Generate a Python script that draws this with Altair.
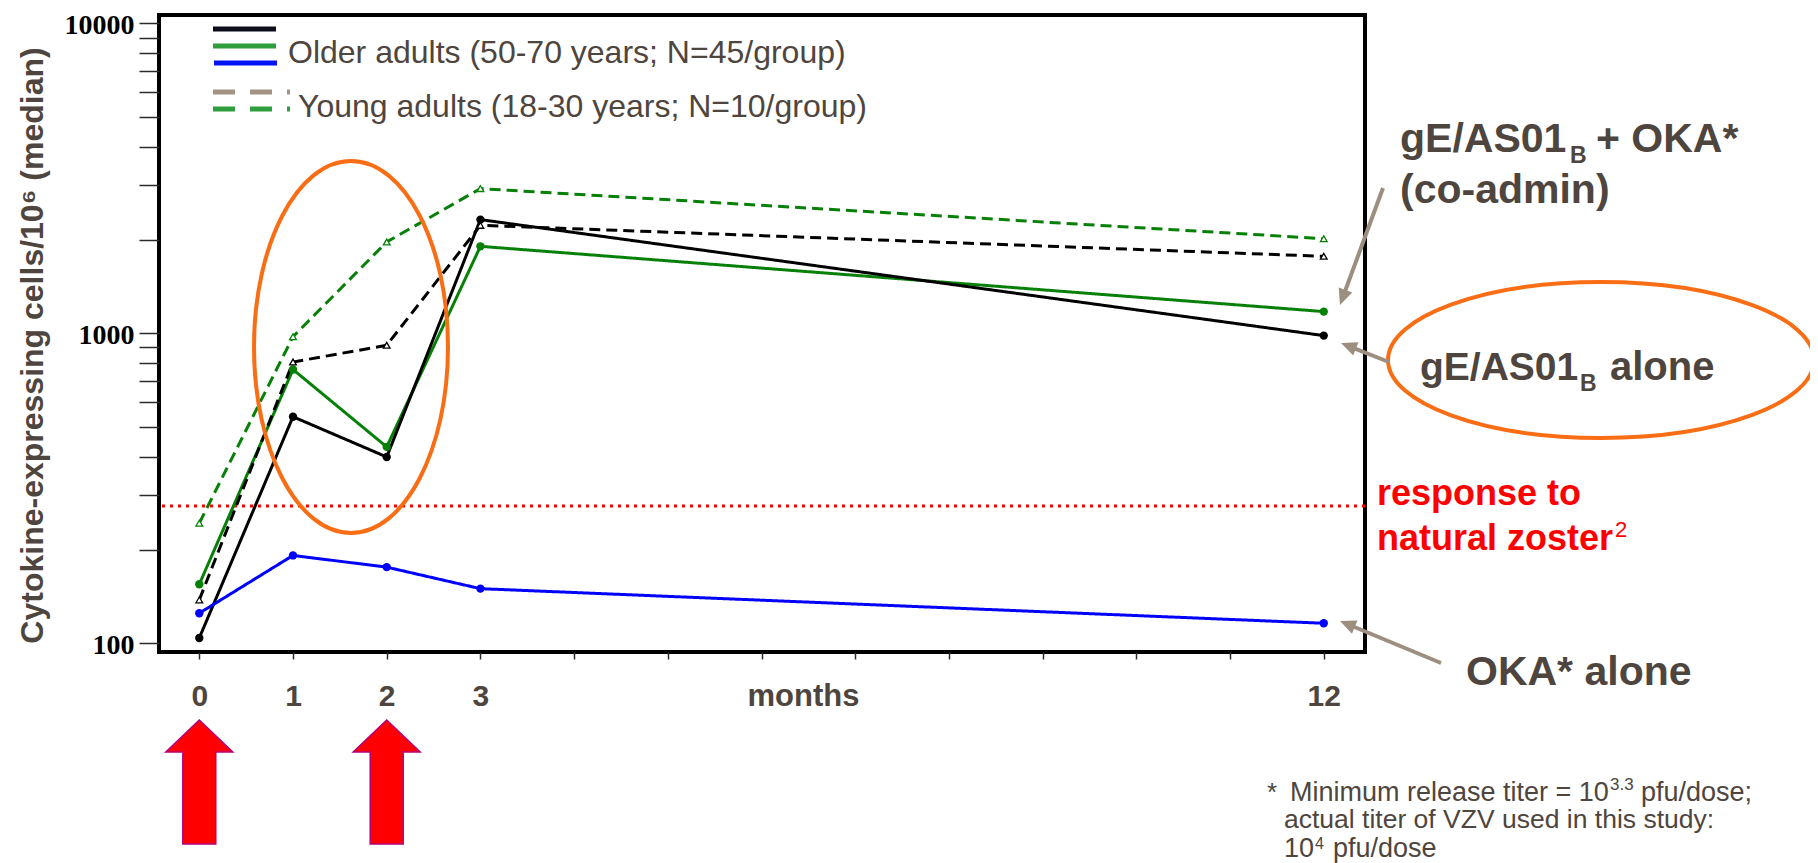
import math
import altair as alt
import pandas as pd

# ---------------- data ----------------
months = [0, 1, 2, 3, 12]
older_gE_coadmin = [155, 764, 430, 1908, 1175]   # green solid
older_gE_alone = [104, 538, 399, 2327, 983]      # black solid
older_oka_alone = [125, 192, 176, 150, 116]      # blue solid
young_gE_coadmin = [244, 975, 1971, 2930, 2020]  # green dashed
young_gE_alone = [138, 808, 915, 2230, 1772]     # black dashed
natural_zoster_response = [277]
dose_months = [0, 2]

x_tick_values = list(range(13))
x_tick_labels = [0, 1, 2, 3, 12]
y_tick_values = [100, 200, 300, 400, 500, 600, 700, 800, 900,
                 1000, 2000, 3000, 4000, 5000, 6000, 7000, 8000, 9000, 10000]
y_tick_labels = [100, 1000, 10000]

series_names = ["Older gE/AS01B + OKA", "Older gE/AS01B", "Older OKA",
                "Young gE/AS01B + OKA", "Young gE/AS01B"]
series_values = [older_gE_coadmin, older_gE_alone, older_oka_alone,
                 young_gE_coadmin, young_gE_alone]
older_names = series_names[:3]
young_names = series_names[3:]

# ---------------- styles ----------------
TXT = "#4e453e"
RED = "#ff0000"
GRAY = "#9d8f80"
ORANGE = "#f96d15"
GREEN = "#078007"
series_colors = [GREEN, "#000000", "#0000ff", GREEN, "#000000"]
series_dash = [[1, 0], [1, 0], [1, 0], [11, 6], [11, 6]]

OX, OY = 159, 15          # page position of plot origin
W, H = 1206, 637

rows = []
for name, vals in zip(series_names, series_values):
    for m, v in zip(months, vals):
        rows.append({"series": name, "month": m, "value": v})
df = pd.DataFrame(rows)

label_list_x = ",".join(str(v) for v in x_tick_labels)
label_list_y = ",".join(str(v) for v in y_tick_labels)

x_axis = alt.Axis(
    values=x_tick_values,
    labelExpr=f"indexof([{label_list_x}], datum.value) >= 0 ? datum.label : ''",
    domain=False, grid=False,
    tickSize=7, tickWidth=1.5, tickColor="#2a2a2a",
    labelFont="Liberation Sans", labelFontSize=30, labelFontWeight="bold",
    labelColor=TXT, labelBaseline="alphabetic", labelPadding=46,
    labelFlush=False, labelOverlap=False,
    title="months", titleX=644, titleY=53, titleAlign="center",
    titleBaseline="alphabetic", titleFont="Liberation Sans", titleFontSize=31,
    titleFontWeight="bold", titleColor=TXT,
)
y_axis = alt.Axis(
    values=y_tick_values,
    labelExpr=f"indexof([{label_list_y}], datum.value) >= 0 ? '' + datum.value : ''",
    domain=False, grid=False,
    tickSize=20, tickWidth=1.5, tickColor="#2a2a2a",
    labelFont="Liberation Serif", labelFontSize=28, labelFontWeight="bold",
    labelColor="#000000", labelPadding=5, labelOverlap=False, labelFlush=False,
    labelBaseline="alphabetic", labelOffset=10,
    title="Cytokine-expressing cells/10\u2076 (median)",
    titleX=-117, titleY=330, titleAngle=270, titleAlign="center",
    titleBaseline="alphabetic", titleFont="Liberation Sans", titleFontSize=32,
    titleFontWeight="bold", titleColor=TXT,
)

x_enc = alt.X("month:Q", scale=alt.Scale(domain=[-0.43, 12.44], nice=False, zero=False), axis=x_axis)
y_enc = alt.Y("value:Q", scale=alt.Scale(type="log", domain=[93.7, 10640], nice=False), axis=y_axis)
color_enc = alt.Color("series:N", scale=alt.Scale(domain=series_names, range=series_colors), legend=None)
dash_enc = alt.StrokeDash("series:N", scale=alt.Scale(domain=series_names, range=series_dash), legend=None)

base = alt.Chart(df)
lines = base.mark_line(strokeWidth=3).encode(x=x_enc, y=y_enc, color=color_enc, strokeDash=dash_enc)
pts_old = base.transform_filter(alt.FieldOneOfPredicate(field="series", oneOf=older_names)).mark_point(
    shape="circle", filled=True, size=70, opacity=1).encode(x=x_enc, y=y_enc, color=color_enc)
pts_young = base.transform_filter(alt.FieldOneOfPredicate(field="series", oneOf=young_names)).mark_point(
    shape="triangle-up", filled=False, fill="white", fillOpacity=1, size=45, strokeWidth=1.3, opacity=1
).encode(x=x_enc, y=y_enc, color=color_enc)

ref_line = alt.Chart(pd.DataFrame({"value": natural_zoster_response})).mark_rule(
    color=RED, strokeWidth=3, strokeDash=[3, 5]).encode(y=y_enc)

# dose arrows (block arrows under months 0 and 2)
block_arrow = "M0,-1L0.54,-0.484L0.266,-0.484L0.266,1L-0.266,1L-0.266,-0.484L-0.54,-0.484Z"
dose = alt.Chart(pd.DataFrame({"month": dose_months})).mark_point(
    shape=block_arrow, size=124 * 124, filled=True, fill=RED, fillOpacity=1,
    stroke="#b5007a", strokeWidth=1.5, opacity=1, dx=-4
).encode(x=x_enc, y=alt.value(782 - OY))

one = pd.DataFrame({"k": [0]})
layers = [ref_line, lines, pts_old, pts_young, dose]

# ellipses (page centre, rx, ry)
ellipses = [((351, 347), 97, 186), ((1601, 360), 213, 78)]
for (cx, cy), rx, ry in ellipses:
    r = max(rx, ry)
    a, b = rx / r, ry / r
    path = f"M{-a:.4f},0A{a:.4f},{b:.4f},0,1,0,{a:.4f},0A{a:.4f},{b:.4f},0,1,0,{-a:.4f},0Z"
    layers.append(alt.Chart(one).mark_point(
        shape=path, size=(2 * r) ** 2, filled=False, stroke=ORANGE, strokeWidth=4, opacity=1
    ).encode(x=alt.value(cx - OX), y=alt.value(cy - OY)))

# grey pointer arrows (start, tip) in page coords
pointer_arrows = [((1383, 188), (1340, 305)), ((1389, 362), (1341, 343)), ((1441, 663), (1340, 621))]
head_path = "M0,0L0.5,1.1L-0.5,1.1Z"
for (sx, sy), (tx, ty) in pointer_arrows:
    dx, dy = tx - sx, ty - sy
    L = math.hypot(dx, dy)
    ux, uy = dx / L, dy / L
    ex, ey = tx - ux * 13, ty - uy * 13
    ang = math.degrees(math.atan2(dx, -dy)) % 360
    layers.append(alt.Chart(one).mark_rule(color=GRAY, strokeWidth=4).encode(
        x=alt.value(sx - OX), y=alt.value(sy - OY), x2=alt.value(ex - OX), y2=alt.value(ey - OY)))
    layers.append(alt.Chart(one).mark_point(
        shape=head_path, size=29 * 29, filled=True, fill=GRAY, fillOpacity=1, strokeWidth=0,
        angle=ang, opacity=1).encode(x=alt.value(tx - OX), y=alt.value(ty - OY)))

# legend swatches: (x1, x2, y, color, dash)
swatches = [
    (213, 276, 29, "#0b0d1a", None),
    (213, 276, 46, "#2f9e3f", None),
    (214, 277, 63, "#0515f5", None),
    (213, 290, 92, "#a39383", [22, 15]),
    (213, 290, 109, "#2f9e3f", [22, 15]),
]
for x1, x2, y, c, d in swatches:
    kw = dict(color=c, strokeWidth=5)
    if d:
        kw["strokeDash"] = d
    layers.append(alt.Chart(one).mark_rule(**kw).encode(
        x=alt.value(x1 - OX), x2=alt.value(x2 - OX), y=alt.value(y - OY)))

# texts: (text, x, y, size, color, weight)
texts = [
    ("Older adults (50-70 years; N=45/group)", 288, 63, 32, TXT, "normal"),
    ("Young adults (18-30 years; N=10/group)", 298, 117, 32, TXT, "normal"),
    ("gE/AS01", 1400, 152, 41, TXT, "bold"),
    ("B", 1570, 163, 23, TXT, "bold"),
    ("+ OKA*", 1596, 152, 41, TXT, "bold"),
    ("(co-admin)", 1400, 203, 41, TXT, "bold"),
    ("gE/AS01", 1420, 380, 39, TXT, "bold"),
    ("B", 1580, 391, 23, TXT, "bold"),
    ("alone", 1610, 380, 40, TXT, "bold"),
    ("response to", 1377, 505, 36, RED, "bold"),
    ("natural zoster", 1377, 550, 36, RED, "bold"),
    ("2", 1615, 537, 22, RED, "normal"),
    ("OKA* alone", 1466, 685, 41, TXT, "bold"),
    ("*", 1267, 801, 26, TXT, "normal"),
    ("Minimum release titer = 10", 1290, 801, 27, TXT, "normal"),
    ("3.3", 1610, 790, 17, TXT, "normal"),
    ("pfu/dose;", 1641, 801, 27, TXT, "normal"),
    ("actual titer of VZV used in this study:", 1284, 828, 26.5, TXT, "normal"),
    ("10", 1284, 857, 27, TXT, "normal"),
    ("4", 1315, 849, 16, TXT, "normal"),
    ("pfu/dose", 1333, 857, 27, TXT, "normal"),
]
for t, x, y, s, c, w in texts:
    layers.append(alt.Chart(one).mark_text(
        align="left", baseline="alphabetic", font="Liberation Sans", fontSize=s,
        fontWeight=w, color=c).encode(x=alt.value(x - OX), y=alt.value(y - OY), text=alt.value(t)))

chart = alt.layer(*layers).properties(
    width=W, height=H,
    padding={"left": OX - 8, "top": OY - 8, "right": 1802 - (OX - 8) - W, "bottom": 855 - (OY - 8) - H},
    autosize="none",
).configure(font="Liberation Sans").configure_view(stroke="black", strokeWidth=4)

chart.save("out.html", embed_options={"renderer": "svg", "actions": False})
